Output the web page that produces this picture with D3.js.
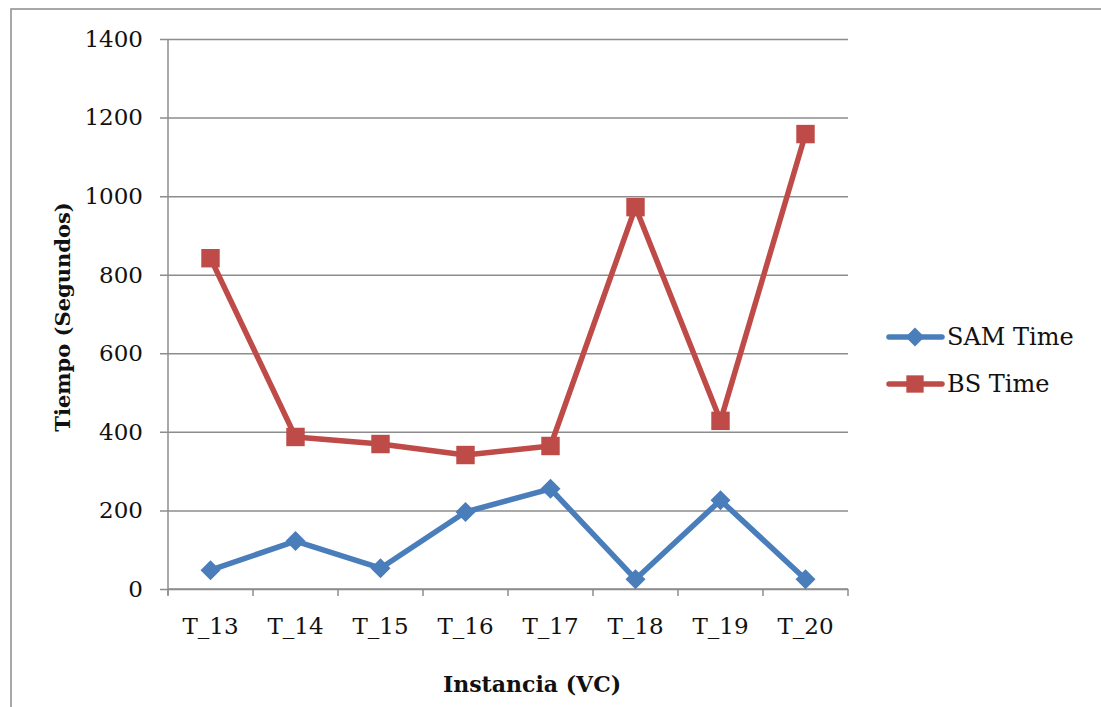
<!DOCTYPE html>
<html>
<head>
<meta charset="utf-8">
<script src="https://cdn.jsdelivr.net/npm/d3@7"></script>
<style>
  body { margin: 0; background: #fff; }
  svg { display: block; }
</style>
</head>
<body>
<svg id="chart" width="1101" height="707"></svg>
<script>
// data
var categories = ["T_13", "T_14", "T_15", "T_16", "T_17", "T_18", "T_19", "T_20"];
var samTime = [48, 122, 53, 196, 255, 25, 226, 25];
var bsTime = [842, 387, 369, 341, 364, 972, 428, 1158];
var yTicks = [0, 200, 400, 600, 800, 1000, 1200, 1400];
var seriesNames = ["SAM Time", "BS Time"];

var FONT = "'DejaVu Serif', serif";
var GRID = "#8c8c8c";
var BLUE = "#4a7ebb";
var RED = "#be4b48";

var svg = d3.select("#chart");

// outer frame
svg.append("rect")
    .attr("x", 11).attr("y", 9)
    .attr("width", 1120).attr("height", 720)
    .attr("fill", "none")
    .attr("stroke", GRID)
    .attr("stroke-width", 1.5);

var plotLeft = 168, plotRight = 848, plotTop = 39, plotBottom = 589;

var x = d3.scaleBand().domain(categories).range([plotLeft, plotRight]);
var y = d3.scaleLinear().domain([0, 1400]).range([plotBottom, plotTop]);

// horizontal gridlines + y ticks
svg.append("g")
    .attr("transform", "translate(" + plotLeft + ",0)")
    .call(d3.axisLeft(y).tickValues(yTicks).tickFormat(d3.format("d"))
        .tickSize(-(plotRight - plotLeft)).tickSizeOuter(0).tickPadding(25))
    .call(function(g){
        g.select(".domain").remove();
        g.selectAll(".tick line").attr("stroke", GRID).attr("stroke-width", 1.5).attr("x1", -8);
        g.selectAll(".tick text")
            .style("font-family", FONT)
            .style("font-size", "23px")
            .attr("fill", "#111");
    });

// y axis line
svg.append("line")
    .attr("x1", plotLeft).attr("x2", plotLeft)
    .attr("y1", plotTop).attr("y2", plotBottom + 6)
    .attr("stroke", GRID).attr("stroke-width", 1.5);

// x axis
var xTickPos = categories.map(function(c){ return x(c); }).concat([plotRight]);
var xAxis = svg.append("g");
xAxis.append("line")
    .attr("x1", plotLeft).attr("x2", plotRight)
    .attr("y1", plotBottom).attr("y2", plotBottom)
    .attr("stroke", GRID).attr("stroke-width", 1.5);
xAxis.selectAll("line.tk")
    .data(xTickPos)
    .enter().append("line")
    .attr("class", "tk")
    .attr("x1", function(d){ return d; }).attr("x2", function(d){ return d; })
    .attr("y1", plotBottom).attr("y2", plotBottom + 7)
    .attr("stroke", GRID).attr("stroke-width", 1.5);
xAxis.selectAll("text")
    .data(categories)
    .enter().append("text")
    .attr("x", function(d){ return x(d) + x.bandwidth() / 2; })
    .attr("y", plotBottom + 45)
    .attr("text-anchor", "middle")
    .style("font-family", FONT)
    .style("font-size", "23px")
    .attr("fill", "#111")
    .text(function(d){ return d; });

// axis titles
svg.append("text")
    .attr("text-anchor", "middle")
    .attr("transform", "translate(70,317) rotate(-90)")
    .style("font-family", FONT)
    .style("font-weight", "bold")
    .style("font-size", "21px")
    .attr("fill", "#111")
    .text("Tiempo (Segundos)");

svg.append("text")
    .attr("text-anchor", "middle")
    .attr("x", 532).attr("y", 692)
    .style("font-family", FONT)
    .style("font-weight", "bold")
    .style("font-size", "22px")
    .attr("fill", "#111")
    .text("Instancia (VC)");

var line = d3.line()
    .x(function(d, i){ return x(categories[i]) + x.bandwidth() / 2; })
    .y(function(d){ return y(d); });

function plotSeries(values, color, shape, size){
    svg.append("path")
        .datum(values)
        .attr("fill", "none")
        .attr("stroke", color)
        .attr("stroke-width", 5.5)
        .attr("stroke-linejoin", "round")
        .attr("d", line);
    svg.selectAll(null)
        .data(values)
        .enter().append("path")
        .attr("transform", function(d, i){
            return "translate(" + (x(categories[i]) + x.bandwidth() / 2) + "," + y(d) + ")";
        })
        .attr("d", d3.symbol().type(shape).size(size))
        .attr("fill", color);
}

function diamond(){
    return {
        draw: function(ctx, size){
            var r = Math.sqrt(size) / 2;
            ctx.moveTo(0, -r); ctx.lineTo(r, 0); ctx.lineTo(0, r); ctx.lineTo(-r, 0); ctx.closePath();
        }
    };
}

plotSeries(samTime, BLUE, diamond(), 400);
plotSeries(bsTime, RED, d3.symbolSquare, 340);

// legend
var legend = svg.append("g");
var legendRows = [
    { name: seriesNames[0], color: BLUE, shape: diamond(), size: 360, y: 337 },
    { name: seriesNames[1], color: RED, shape: d3.symbolSquare, size: 300, y: 384 }
];
legendRows.forEach(function(r){
    legend.append("line")
        .attr("x1", 889).attr("x2", 942)
        .attr("y1", r.y).attr("y2", r.y)
        .attr("stroke", r.color).attr("stroke-width", 5.5)
        .attr("stroke-linecap", "round");
    legend.append("path")
        .attr("transform", "translate(915," + r.y + ")")
        .attr("d", d3.symbol().type(r.shape).size(r.size))
        .attr("fill", r.color);
    legend.append("text")
        .attr("x", 947).attr("y", r.y + 8)
        .style("font-family", FONT)
        .style("font-size", "24px")
        .attr("fill", "#111")
        .text(r.name);
});
</script>
</body>
</html>
